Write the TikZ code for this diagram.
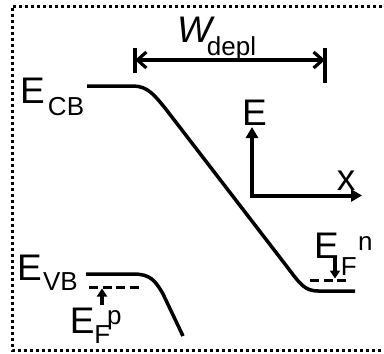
\documentclass[tikz,border=0pt]{standalone}
\usepackage{fontspec}
\setmainfont{Liberation Sans}
\usetikzlibrary{arrows.meta}
\newcommand{\bigtxt}{\fontsize{37}{37}\selectfont}
\newcommand{\subtxt}{\fontsize{26}{26}\selectfont}
\begin{document}
\begin{tikzpicture}[x=1pt,y=-1pt,
  lbl/.style={inner sep=0pt, outer sep=0pt, anchor=base west, font=\bigtxt},
  sublbl/.style={lbl, font=\subtxt},
  band/.style={line width=3.5pt},
  fermi/.style={line width=3pt, dash pattern=on 9pt off 4.5pt},
  farrow/.style={line width=3.2pt, -{Triangle[length=8pt,width=10pt]}},
  axis/.style={line width=4pt, -{Triangle[length=11pt,width=12pt]}},
  wline/.style={line width=3.2pt, {Straight Barb[length=9pt,width=16pt,line width=3.2pt]}-{Straight Barb[length=9pt,width=16pt,line width=3.2pt]}},
  tick/.style={line width=3.5pt},
  frame/.style={line width=3pt, dash pattern=on 3pt off 3pt}
]
\useasboundingbox (0,0) rectangle (384,354);
% frame
\draw[frame] (388,6) -- (12,6) -- (12,350) -- (388,350);

% conduction band
\draw[band] (87,86) -- (133,86) .. controls (148,86) and (155,96) .. (165,108)
  -- (288,268) .. controls (300,284) and (305,291) .. (318,291) -- (355,291);
% valence band
\draw[band] (86,274) -- (133,274) .. controls (150,274) and (155,280) .. (163,294) -- (183,336);

% Fermi levels
\coordinate (fpl) at (89,287);
\coordinate (fpr) at (142,287);
\draw[fermi] (fpl) -- (fpr);
\coordinate (fpa) at (102,305);
\coordinate (fpt) at (102,288.5);
\draw[farrow] (fpa) -- (fpt);

\coordinate (fnl) at (310,280);
\coordinate (fnr) at (349,280);
\draw[fermi] (fnl) -- (fnr);
\coordinate (fna) at (335,257);
\coordinate (fnt) at (335,278.5);
\draw[farrow] (fna) -- (fnt);

% depletion width
\coordinate (wl) at (135,60);
\coordinate (wr) at (325,60);
\draw[wline] (wl) -- (wr);
\coordinate (wlt) at (135,48);
\coordinate (wlb) at (135,73);
\coordinate (wrt) at (325,48);
\coordinate (wrb) at (325,83);
\draw[tick] (wlt) -- (wlb);
\draw[tick] (wrt) -- (wrb);
\node[lbl, font=\bigtxt\itshape] (W) at (177,42) {W};
\node[sublbl] (depl) at (207,55) {depl};

% axes
\coordinate (o) at (252,195.5);
\coordinate (ey) at (252,127);
\coordinate (ex) at (362,195.5);
\draw[axis] ([yshift=-2pt]o) -- (ey);
\draw[axis] ([xshift=-2pt]o) -- (ex);
\node[lbl] (Eaxis) at (242,125) {E};
\node[lbl] (xaxis) at (337,190) {x};

% band labels
\node[lbl] (Ecb) at (20,103) {E};
\node[sublbl] (cb) at (48,115) {CB};
\node[lbl] (Evb) at (17,280) {E};
\node[sublbl] (vb) at (43,290) {VB};
\node[lbl] (Efp) at (70,333) {E};
\node[sublbl] (Fp) at (94.5,343) {F};
\node[sublbl] (p) at (107,324) {p};
\node[lbl] (Efn) at (314,258) {E};
\node[sublbl] (Fn) at (341,275) {F};
\node[sublbl] (n) at (358,250) {n};
\end{tikzpicture}
\end{document}
